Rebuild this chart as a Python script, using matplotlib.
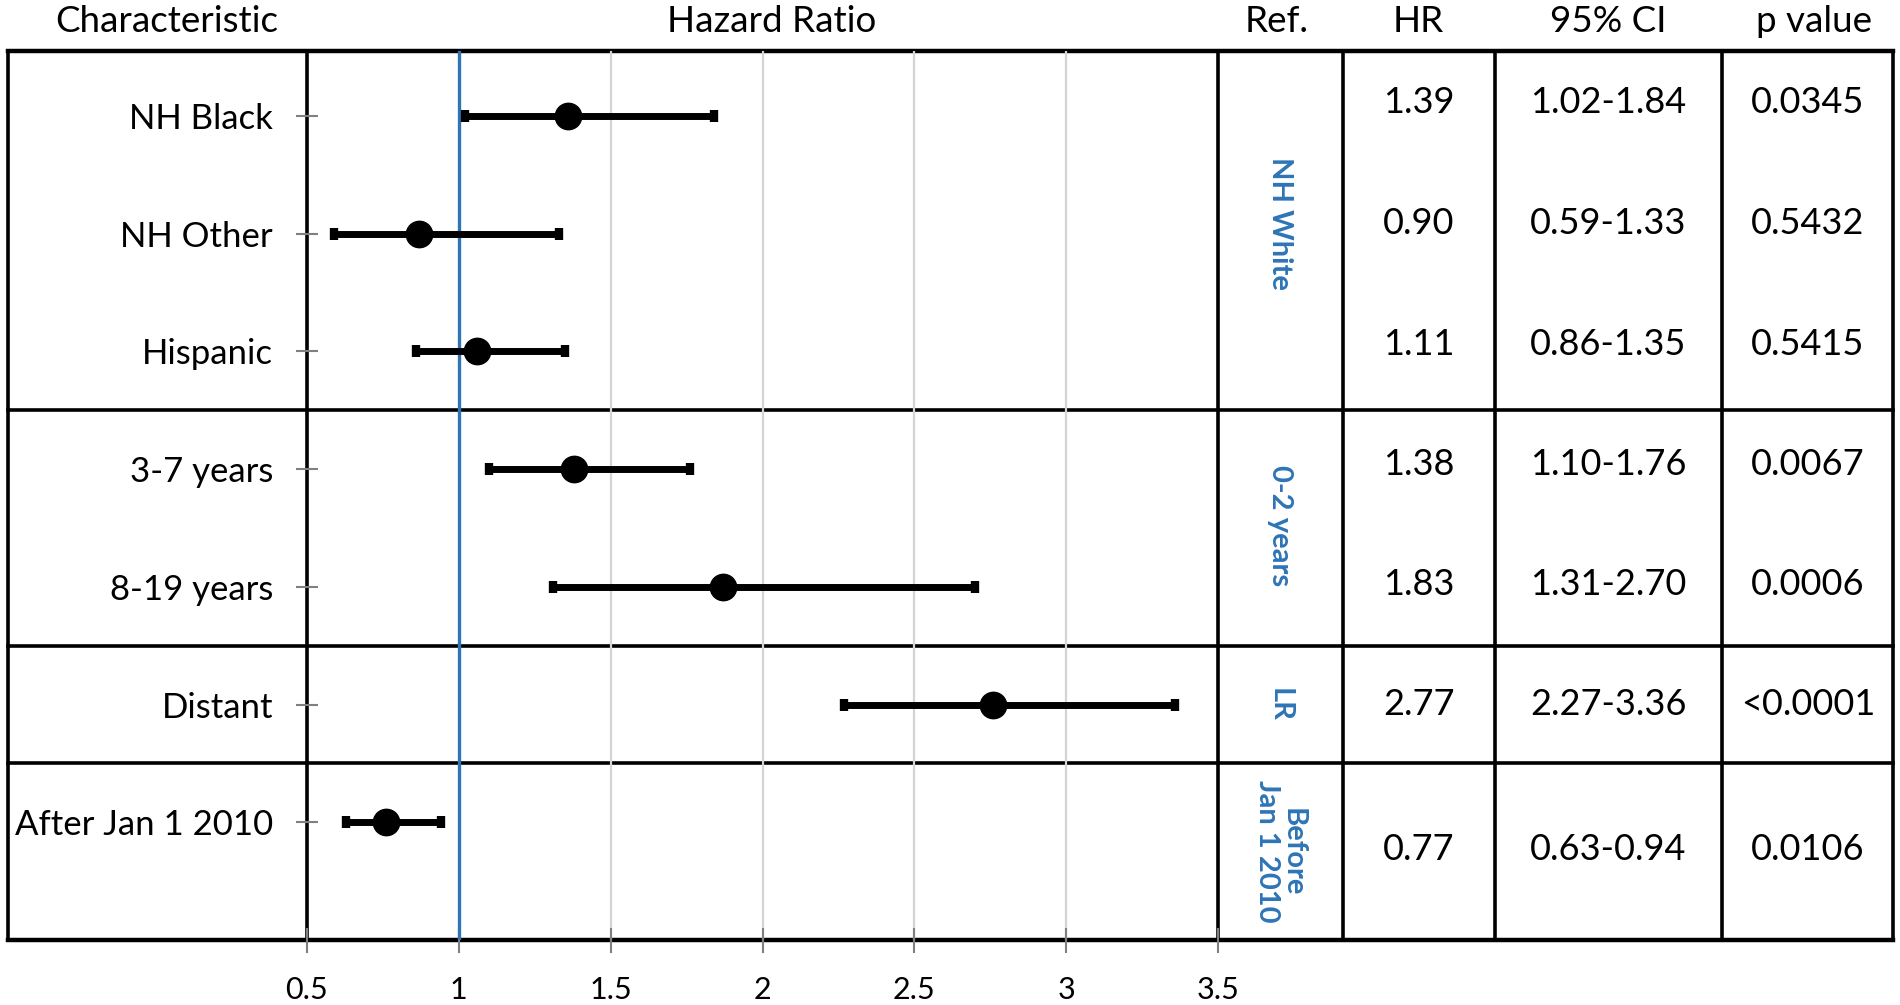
import matplotlib
matplotlib.use("Agg")
import matplotlib.pyplot as plt
import matplotlib.transforms as mtransforms
import numpy as np

# ---------------- data ----------------
characteristics = ["NH Black", "NH Other", "Hispanic", "3-7 years", "8-19 years",
                   "Distant", "After Jan 1 2010"]
point_est = [1.36, 0.87, 1.06, 1.38, 1.87, 2.76, 0.76]
ci_low = [1.02, 0.59, 0.86, 1.10, 1.31, 2.27, 0.63]
ci_high = [1.84, 1.33, 1.35, 1.76, 2.70, 3.36, 0.94]
hr_text = ["1.39", "0.90", "1.11", "1.38", "1.83", "2.77", "0.77"]
ci_text = ["1.02-1.84", "0.59-1.33", "0.86-1.35", "1.10-1.76", "1.31-2.70",
           "2.27-3.36", "0.63-0.94"]
p_text = ["0.0345", "0.5432", "0.5415", "0.0067", "0.0006", "<0.0001", "0.0106"]
ref_groups = ["NH White", "0-2 years", "LR", "Before\nJan 1 2010"]
group_sizes = [3, 2, 1, 1]
x_ticks = [0.5, 1, 1.5, 2, 2.5, 3, 3.5]
x_tick_labels = ["0.5", "1", "1.5", "2", "2.5", "3", "3.5"]
grid_vals = [1.5, 2, 2.5, 3]
ref_line = 1.0
headers = ["Characteristic", "Hazard Ratio", "Ref.", "HR", "95% CI", "p value"]

# ---------------- layout ----------------
FONT = ["Lato", "DejaVu Sans"]
plt.rcParams["font.family"] = FONT
BLUE = "#2E75B6"
W, H = 1900, 1005
L, R, T, B = 307, 1218, 51, 940
BOX_L, BOX_R = 8, 1893
COL_LINES = [1343, 1495, 1722]
COL_CENTERS = [1280, 1419, 1608, 1808]
HEADER_X = [167, 772, 1277, 1418, 1608, 1814]
HEADER_Y = 21
YTOP, YBOT = -0.55, 7.0
LW = 2.6
ROW_SHIFT = [-0.07, -0.06, -0.05, -0.04, -0.02, 0.0, -0.02]
REF_SHIFT = [-0.06, -0.02, 0.0, 0.0]

fig = plt.figure(figsize=(W / 100, H / 100), dpi=100)
bg = fig.add_axes([0, 0, 1, 1])
bg.set_xlim(0, W)
bg.set_ylim(H, 0)
bg.axis("off")
bg.set_zorder(0)

ax = fig.add_axes([L / W, 1 - B / H, (R - L) / W, (B - T) / H])
ax.set_zorder(1)
ax.patch.set_visible(False)
ax.set_xlim(0.5, 3.5)
ax.set_ylim(YBOT, YTOP)

ypos = np.arange(len(characteristics))

# gridlines and reference line
for g in grid_vals:
    ax.axvline(g, color="#d4d4d4", lw=1.6, zorder=1)
ax.axvline(ref_line, color=BLUE, lw=2.4, zorder=2)

est = np.array(point_est)
lo = np.array(ci_low)
hi = np.array(ci_high)
ax.errorbar(est, ypos, xerr=[est - lo, hi - est], fmt="o", color="black",
            ms=19, elinewidth=5, capsize=4, capthick=6, zorder=5)

# ticks
ax.set_yticks(ypos)
ax.set_yticklabels(characteristics, fontsize=25)
ax.set_xticks(x_ticks)
ax.set_xticklabels(x_tick_labels, fontsize=22)
ax.tick_params(axis="y", direction="inout", length=16, width=1.5, color="#808080",
               labelcolor="black", pad=16.5)
ax.tick_params(axis="x", direction="inout", length=18, width=1.5, color="#808080",
               labelcolor="black", pad=17)
for s in ax.spines.values():
    s.set_visible(False)

# table frame
trans = mtransforms.blended_transform_factory(bg.transData, ax.transData)
bg.plot([BOX_L, BOX_R], [T, T], color="black", lw=LW + 0.6, solid_capstyle="projecting")
bg.plot([BOX_L, BOX_R], [B, B], color="black", lw=LW + 0.6, solid_capstyle="projecting")
for xv in [BOX_L, L, R] + COL_LINES + [BOX_R]:
    bg.plot([xv, xv], [T, B], color="black", lw=LW, solid_capstyle="projecting")

bounds = [YTOP] + list(np.cumsum(group_sizes)[:-1] - 0.5) + [YBOT]
for b in bounds[1:-1]:
    bg.plot([BOX_L, BOX_R], [b, b], color="black", lw=LW, transform=trans,
            solid_capstyle="projecting")

# table text
row_y = []
for gi, n in enumerate(group_sizes):
    b0, b1 = bounds[gi], bounds[gi + 1]
    for k in range(n):
        row_y.append(b0 + (k + 0.5) * (b1 - b0) / n)
    bg.text(COL_CENTERS[0], (b0 + b1) / 2 + REF_SHIFT[gi], ref_groups[gi],
            transform=trans, rotation=270, ha="center", va="center",
            multialignment="center", color=BLUE, fontsize=21, fontweight="bold",
            linespacing=1.0)

for i in range(len(characteristics)):
    for cx, txt in zip(COL_CENTERS[1:], [hr_text[i], ci_text[i], p_text[i]]):
        bg.text(cx, row_y[i] + ROW_SHIFT[i], txt, transform=trans, ha="center",
                va="center", fontsize=26, color="black")

for hx, htxt in zip(HEADER_X, headers):
    bg.text(hx, HEADER_Y, htxt, ha="center", va="center", fontsize=26.5, color="black")

fig.savefig("out.png", dpi=100)
